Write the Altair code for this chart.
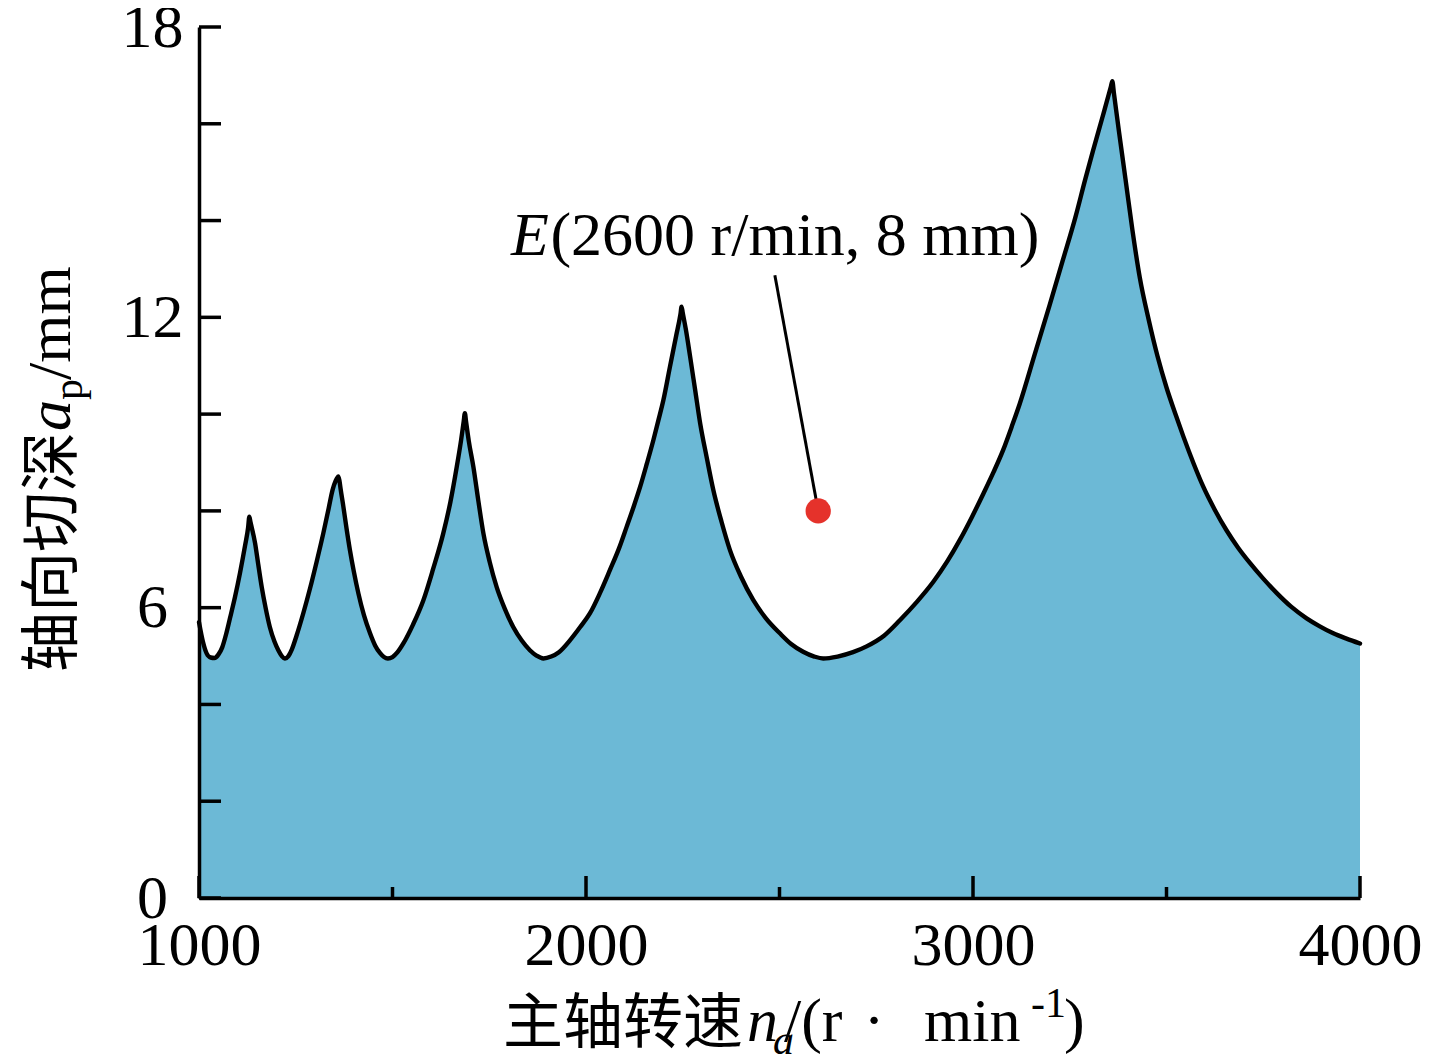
import altair as alt
import pandas as pd

# ---- data ----
rpm = [1000, 1010, 1020, 1030, 1040, 1050, 1060, 1070, 1080, 1093, 1106, 1119, 1127, 1130,
       1133, 1145, 1153, 1162, 1172, 1183, 1195, 1205, 1214, 1222, 1231, 1240, 1252, 1270,
       1287, 1304, 1321, 1335, 1345, 1353, 1357, 1360, 1363, 1366, 1373, 1381, 1390, 1400, 1412,
       1426, 1442, 1455, 1468, 1478, 1488, 1500, 1513, 1528, 1553, 1580, 1605, 1631,
       1650, 1666, 1677, 1684, 1687, 1690, 1697, 1709, 1722, 1735, 1751, 1769, 1790, 1812, 1834,
       1855, 1872, 1890, 1910, 1930, 1959, 1985, 2010, 2036, 2062, 2085, 2105, 2122, 2140, 2157,
       2174, 2187, 2200, 2217, 2233, 2244, 2247, 2250, 2258, 2269, 2282, 2295, 2312, 2329, 2350, 2372,
       2400, 2432, 2465, 2501, 2530, 2561, 2590, 2613, 2650, 2690, 2725, 2770,
       2811, 2855, 2898, 2933, 2966, 2997, 3027, 3053, 3078, 3100, 3121, 3160, 3198, 3231, 3264,
       3290, 3310, 3335, 3356, 3360, 3364, 3377, 3394, 3412, 3431, 3454, 3477, 3500, 3524, 3543,
       3570, 3595, 3625, 3655, 3685, 3716, 3750, 3785, 3822, 3862, 3895, 3931, 3965, 4000]
depth = [5.70, 5.30, 5.05, 4.97, 4.96, 5.03, 5.18, 5.45, 5.78, 6.22, 6.72, 7.28, 7.66, 7.88,
         7.77, 7.33, 6.90, 6.43, 6.00, 5.60, 5.30, 5.12, 5.00, 4.95, 5.00, 5.14, 5.42, 5.90,
         6.40, 6.95, 7.53, 8.05, 8.43, 8.62, 8.68, 8.71, 8.62, 8.45, 8.09, 7.65, 7.19, 6.75, 6.29,
         5.85, 5.47, 5.22, 5.06, 4.98, 4.95, 4.98, 5.08, 5.26, 5.65, 6.16, 6.80, 7.53,
         8.20, 8.91, 9.45, 9.85, 10.02, 9.85, 9.45, 8.91, 8.20, 7.53, 6.95, 6.43, 5.98, 5.60, 5.32,
         5.12, 5.01, 4.95, 4.99, 5.08, 5.33, 5.60, 5.88, 6.30, 6.78, 7.22, 7.67, 8.06, 8.50, 8.97,
         9.46, 9.87, 10.29, 10.98, 11.62, 12.06, 12.22, 12.09, 11.75, 11.19, 10.50, 9.81, 9.10, 8.43, 7.78, 7.19,
         6.65, 6.16, 5.78, 5.47, 5.25, 5.09, 4.99, 4.95, 4.99, 5.08, 5.20, 5.42,
         5.74, 6.12, 6.54, 6.95, 7.40, 7.87, 8.36, 8.80, 9.26, 9.74, 10.22, 11.25, 12.25, 13.15, 14.05,
         14.85, 15.44, 16.15, 16.76, 16.88, 16.64, 15.85, 14.86, 13.80, 12.82, 11.95, 11.19, 10.55, 9.98, 9.55,
         8.98, 8.50, 8.02, 7.60, 7.24, 6.92, 6.60, 6.30, 6.02, 5.78, 5.62, 5.47, 5.36, 5.26]

y_ticks = [0, 2, 4, 6, 8, 10, 12, 14, 16, 18]
y_labels = [0, 6, 12, 18]
x_major = [1000, 2000, 3000, 4000]
x_minor = [1500, 2500, 3500]

point_rpm = [2600]
point_depth = [8]
leader_rpm = [2488, 2600]
leader_depth = [12.87, 8.0]
annot_rpm_E = [1904]
annot_rpm_rest = [1908]
annot_depth = [13.28]

SERIF = "Liberation Serif"
CJK = "Noto Sans CJK SC"
FILL = "#6CB9D6"

W, H = 1161, 871

curve = pd.DataFrame({"rpm": rpm, "depth": depth})
xs = alt.Scale(domain=[1000, 4000], nice=False, zero=False)
ys = alt.Scale(domain=[0, 18], nice=False)

x_axis = alt.Axis(values=x_major, format="d", title=None, ticks=False, tickSize=0, grid=False,
                  labelFont=SERIF, labelFontSize=62, labelColor="black",
                  labelBaseline="alphabetic", labelPadding=66, labelAlign="center",
                  labelFlush=False, domainColor="black", domainWidth=3.5, zindex=2)
y_axis = alt.Axis(values=y_labels, format="d", title=None, ticks=False, tickSize=0, grid=False,
                  labelFont=SERIF, labelFontSize=62, labelColor="black",
                  labelBaseline="middle", labelPadding=47, labelAlign="center",
                  labelFlush=False, domainColor="black", domainWidth=3.5, zindex=2)

area = alt.Chart(curve).mark_area(color=FILL, interpolate="monotone").encode(
    x=alt.X("rpm:Q", scale=xs, axis=x_axis),
    y=alt.Y("depth:Q", scale=ys, axis=y_axis),
)
line = alt.Chart(curve).mark_line(color="black", strokeWidth=4.4, strokeJoin="round",
                                  strokeCap="round", interpolate="monotone").encode(
    x=alt.X("rpm:Q", scale=xs), y=alt.Y("depth:Q", scale=ys))

yt = alt.Chart(pd.DataFrame({"v": y_ticks})).mark_rule(color="black", strokeWidth=3.5).encode(
    y=alt.Y("v:Q", scale=ys), x=alt.value(0), x2=alt.value(22))
xt_major = alt.Chart(pd.DataFrame({"v": x_major})).mark_rule(color="black", strokeWidth=3.5).encode(
    x=alt.X("v:Q", scale=xs), y=alt.value(H), y2=alt.value(H - 22))
xt_minor = alt.Chart(pd.DataFrame({"v": x_minor})).mark_rule(color="black", strokeWidth=3.5).encode(
    x=alt.X("v:Q", scale=xs), y=alt.value(H), y2=alt.value(H - 11))

leader = alt.Chart(pd.DataFrame({"rpm": leader_rpm, "depth": leader_depth})).mark_line(
    color="black", strokeWidth=3).encode(x=alt.X("rpm:Q", scale=xs), y=alt.Y("depth:Q", scale=ys))
pt = alt.Chart(pd.DataFrame({"rpm": point_rpm, "depth": point_depth})).mark_circle(
    color="#E5322B", opacity=1, size=640).encode(x=alt.X("rpm:Q", scale=xs), y=alt.Y("depth:Q", scale=ys))

annE = alt.Chart(pd.DataFrame({"rpm": annot_rpm_E, "depth": annot_depth})).mark_text(
    text="E", font=SERIF, fontSize=62, fontStyle="italic", align="right", baseline="alphabetic",
    color="black").encode(x=alt.X("rpm:Q", scale=xs), y=alt.Y("depth:Q", scale=ys))
annR = alt.Chart(pd.DataFrame({"rpm": annot_rpm_rest, "depth": annot_depth})).mark_text(
    text="(2600 r/min, 8 mm)", font=SERIF, fontSize=62, align="left", baseline="alphabetic",
    color="black").encode(x=alt.X("rpm:Q", scale=xs), y=alt.Y("depth:Q", scale=ys))

dummy = pd.DataFrame({"k": [0]})


def txt(s, x, y, font=SERIF, size=62, style="normal", angle=0, align="left"):
    return alt.Chart(dummy).mark_text(text=s, font=font, fontSize=size, fontStyle=style,
                                      angle=angle, align=align, baseline="alphabetic",
                                      color="black").encode(x=alt.value(x), y=alt.value(y))


# x-axis title pieces: 主轴转速 n_a /(r · min^-1)
xb = 1014
xtitle = [
    txt("主轴转速", 304, xb + 2, font=CJK, size=60),
    txt("n", 548, xb, style="italic"),
    txt("a", 574, xb + 13, style="italic", size=42),
    txt("/(r", 585, xb),
    txt("·", 675, xb, align="center"),
    txt("min", 725, xb),
    txt("-1", 832, xb - 24, size=42),
    txt(")", 865, xb),
]
# y-axis title pieces (rotated): 轴向切深 a_p /mm
yb = -129
ytitle = [
    txt("轴向切深", yb + 2, 645, font=CJK, size=60, angle=270),
    txt("a", yb, 404, style="italic", angle=270),
    txt("p", yb + 12, 373, size=42, angle=270),
    txt("/mm", yb, 353, angle=270),
]

chart = alt.layer(area, line, yt, xt_major, xt_minor, leader, pt, annE, annR,
                  *xtitle, *ytitle).properties(
    width=W, height=H,
    autosize=alt.AutoSizeParams(type="none"),
    padding={"left": 191, "top": 19, "right": 88, "bottom": 156},
).configure(background="white", view=alt.ViewConfig(stroke=None))

chart.save("out.html", embed_options={"renderer": "svg", "actions": False})
